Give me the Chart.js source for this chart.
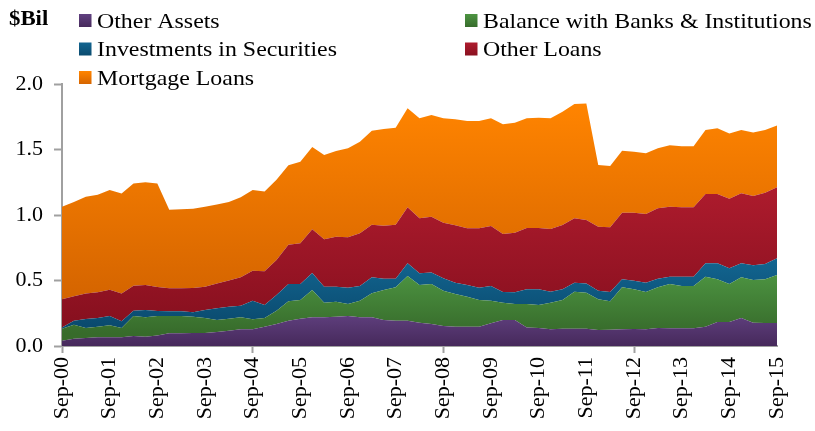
<!DOCTYPE html>
<html>
<head>
<meta charset="utf-8">
<script src="https://cdn.jsdelivr.net/npm/chart.js@4.4.0/dist/chart.umd.min.js"></script>
<style>
  html, body { margin: 0; padding: 0; background: #fff; }
  #wrap { position: relative; width: 815px; height: 431px; }
</style>
</head>
<body>
<div id="wrap"><canvas id="myChart"></canvas></div>
<script>
// quarterly, Sep-00 .. Sep-15
const quarters = [
  'Sep-00','Dec-00','Mar-01','Jun-01','Sep-01','Dec-01','Mar-02','Jun-02',
  'Sep-02','Dec-02','Mar-03','Jun-03','Sep-03','Dec-03','Mar-04','Jun-04',
  'Sep-04','Dec-04','Mar-05','Jun-05','Sep-05','Dec-05','Mar-06','Jun-06',
  'Sep-06','Dec-06','Mar-07','Jun-07','Sep-07','Dec-07','Mar-08','Jun-08',
  'Sep-08','Dec-08','Mar-09','Jun-09','Sep-09','Dec-09','Mar-10','Jun-10',
  'Sep-10','Dec-10','Mar-11','Jun-11','Sep-11','Dec-11','Mar-12','Jun-12',
  'Sep-12','Dec-12','Mar-13','Jun-13','Sep-13','Dec-13','Mar-14','Jun-14',
  'Sep-14','Dec-14','Mar-15','Jun-15','Sep-15'
];

const otherAssets = [
  0.040,0.056,0.061,0.066,0.066,0.066,0.076,0.071,0.081,0.097,0.097,0.100,0.100,0.107,0.117,0.127,
  0.127,0.147,0.168,0.193,0.208,0.219,0.219,0.224,0.229,0.219,0.219,0.198,0.193,0.193,0.178,0.168,
  0.153,0.147,0.147,0.147,0.173,0.198,0.198,0.142,0.137,0.127,0.132,0.132,0.132,0.122,0.124,0.127,
  0.130,0.127,0.137,0.135,0.135,0.135,0.147,0.183,0.183,0.214,0.178,0.176,0.176
];
const balanceWithBanks = [
  0.092,0.107,0.076,0.081,0.092,0.071,0.153,0.148,0.148,0.132,0.132,0.124,0.114,0.091,0.091,0.092,
  0.077,0.067,0.102,0.148,0.143,0.208,0.112,0.114,0.092,0.127,0.183,0.229,0.255,0.341,0.288,0.305,
  0.269,0.250,0.229,0.204,0.173,0.133,0.123,0.179,0.176,0.204,0.219,0.283,0.275,0.234,0.217,0.321,
  0.303,0.285,0.311,0.338,0.323,0.323,0.382,0.326,0.290,0.310,0.326,0.333,0.366
];
const investments = [
  0.010,0.030,0.069,0.067,0.071,0.051,0.041,0.056,0.038,0.036,0.036,0.033,0.061,0.090,0.092,0.089,
  0.142,0.099,0.119,0.132,0.122,0.130,0.122,0.115,0.124,0.112,0.122,0.087,0.066,0.097,0.089,0.089,
  0.095,0.086,0.090,0.094,0.112,0.081,0.089,0.112,0.120,0.084,0.082,0.068,0.071,0.066,0.071,0.061,
  0.066,0.071,0.066,0.056,0.071,0.071,0.102,0.122,0.120,0.107,0.112,0.117,0.127
];
const otherLoans = [
  0.214,0.187,0.194,0.196,0.201,0.212,0.190,0.190,0.183,0.175,0.175,0.186,0.178,0.190,0.200,0.216,
  0.229,0.257,0.267,0.300,0.311,0.335,0.361,0.381,0.385,0.402,0.402,0.404,0.412,0.428,0.420,0.425,
  0.424,0.438,0.432,0.453,0.458,0.443,0.455,0.468,0.468,0.478,0.491,0.492,0.484,0.489,0.494,0.509,
  0.519,0.525,0.537,0.534,0.530,0.530,0.529,0.529,0.532,0.535,0.529,0.544,0.542
];
const mortgageLoans = [
  0.707,0.720,0.740,0.745,0.760,0.765,0.780,0.785,0.790,0.600,0.603,0.605,0.610,0.602,0.600,0.611,
  0.615,0.610,0.614,0.607,0.623,0.628,0.644,0.655,0.679,0.700,0.718,0.738,0.740,0.755,0.763,0.776,
  0.797,0.809,0.820,0.820,0.822,0.837,0.840,0.837,0.842,0.845,0.865,0.872,0.890,0.471,0.468,0.473,
  0.465,0.463,0.458,0.469,0.465,0.465,0.489,0.502,0.498,0.483,0.484,0.479,0.473
];

const yTicks = [0, 0.5, 1.0, 1.5, 2.0];

const FONT = 'Liberation Serif, "Times New Roman", serif';
const AXIS_GREY = '#a0a0a0';
const STRETCH = 1.085; // original text is a little wider than Liberation Serif

// name, values, light colour, dark colour, legend colour, gradient span (top value, bottom value)
const series = [
  { name: 'Other Assets', data: otherAssets, light: '#60407f', dark: '#46295b', key: '#5a3a78', span: [0.25, 0] },
  { name: 'Balance with Banks & Institutions', data: balanceWithBanks, light: '#4c9341', dark: '#376b2b', key: '#3f8a35', span: [0.55, 0.1] },
  { name: 'Investments in Securities', data: investments, light: '#12648f', dark: '#0a4a6e', key: '#0f5882', span: [0.65, 0.15] },
  { name: 'Other Loans', data: otherLoans, light: '#ad1b2d', dark: '#88101f', key: '#9c1525', span: [1.2, 0.2] },
  { name: 'Mortgage Loans', data: mortgageLoans, light: '#ff8400', dark: '#d46400', key: '#f07800', span: [1.85, 0.35] }
];

function bandGradient(s) {
  let cache = null;
  return ctx => {
    const chart = ctx.chart;
    if (!chart.chartArea) return s.key;
    const y = chart.scales.y;
    const top = y.getPixelForValue(s.span[0]);
    const bot = y.getPixelForValue(s.span[1]);
    if (cache && cache.top === top && cache.bot === bot) return cache.g;
    const g = chart.ctx.createLinearGradient(0, top, 0, bot);
    g.addColorStop(0, s.light);
    g.addColorStop(1, s.dark);
    cache = { top, bot, g };
    return g;
  };
}

function stretchedText(c, txt, x, y) {
  c.save();
  c.translate(x, y);
  c.scale(STRETCH, 1);
  c.fillText(txt, 0, 0);
  c.restore();
}

// two-column legend + unit label, drawn like the original
const legendPlugin = {
  id: 'sideLegend',
  afterDraw(chart) {
    const c = chart.ctx;
    c.save();
    c.textBaseline = 'alphabetic';
    c.textAlign = 'left';
    c.fillStyle = '#000';
    c.font = 'bold 21px ' + FONT;
    stretchedText(c, '$Bil', 9, 25);
    c.font = '22px ' + FONT;
    const boxX = [79, 465];
    const textX = [97, 483];
    const base = [27.5, 56, 84.5];
    series.forEach((s, i) => {
      const col = i % 2;
      const yy = base[Math.floor(i / 2)];
      const g = c.createLinearGradient(0, yy - 13, 0, yy);
      g.addColorStop(0, s.light);
      g.addColorStop(1, s.dark);
      c.fillStyle = g;
      c.fillRect(boxX[col], yy - 13.5, 12.5, 13);
      c.fillStyle = '#000';
      stretchedText(c, s.name, textX[col], yy);
    });
    c.restore();
  }
};

new Chart(document.getElementById('myChart').getContext('2d'), {
  type: 'line',
  data: {
    labels: quarters,
    datasets: series.map((s, i) => ({
      label: s.name,
      data: s.data,
      fill: i === 0 ? 'origin' : '-1',
      backgroundColor: bandGradient(s),
      borderWidth: 0,
      borderColor: 'transparent',
      pointRadius: 0,
      pointHoverRadius: 0,
      tension: 0
    }))
  },
  options: {
    responsive: true,
    maintainAspectRatio: false,
    animation: false,
    layout: { padding: { top: 84, right: 38, bottom: 0, left: 0 } },
    plugins: {
      legend: { display: false },
      tooltip: { enabled: false }
    },
    scales: {
      x: {
        offset: false,
        grid: {
          drawOnChartArea: false,
          drawTicks: true,
          tickLength: 7,
          tickWidth: 2,
          tickColor: ctx => (ctx.tick && quarters[ctx.index] && quarters[ctx.index].startsWith('Sep')) ? AXIS_GREY : 'transparent'
        },
        border: { color: AXIS_GREY, width: 2 },
        ticks: {
          autoSkip: false,
          maxRotation: 90,
          minRotation: 90,
          padding: 4,
          color: '#000',
          font: { family: FONT, size: 22 },
          callback: (v, i) => quarters[i].startsWith('Sep') ? quarters[i] : null
        },
        afterFit: scale => { scale.height = 85; }
      },
      y: {
        stacked: true,
        min: 0,
        max: 2,
        afterBuildTicks: scale => { scale.ticks = yTicks.map(v => ({ value: v })); },
        grid: {
          drawOnChartArea: false,
          tickLength: 8,
          tickWidth: 2,
          tickColor: AXIS_GREY
        },
        border: { color: AXIS_GREY, width: 2 },
        ticks: {
          padding: 11,
          color: '#000',
          font: { family: FONT, size: 22 },
          callback: v => Number(v).toFixed(1)
        },
        afterFit: scale => { scale.width = 62; }
      }
    }
  },
  plugins: [legendPlugin]
});
</script>
</body>
</html>
